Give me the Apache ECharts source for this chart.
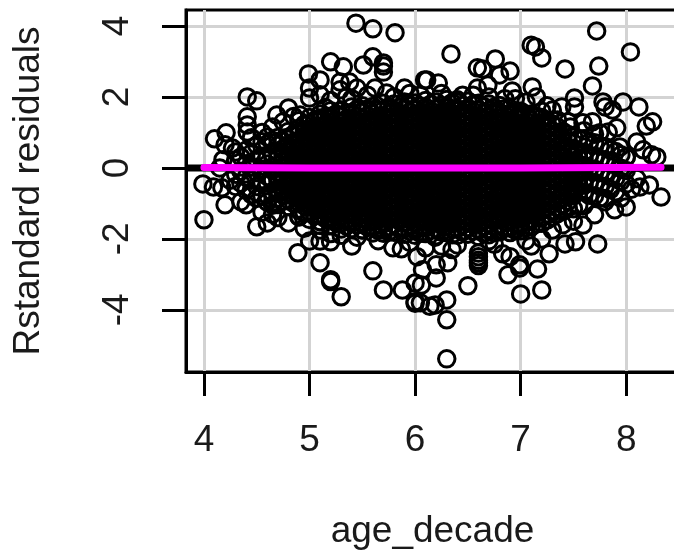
<!DOCTYPE html>
<html><head><meta charset="utf-8">
<style>html,body{margin:0;padding:0;background:#fff}#c{width:674px;height:553px}</style>
<script src="https://cdn.jsdelivr.net/npm/echarts@6/dist/echarts.min.js"></script>
</head><body><div id="c"></div>
<script>
const xTicks = [4,5,6,7,8];
const yTicks = [-4,-2,0,2,4];
const xTitle = 'age_decade';
const yTitle = 'Rstandard residuals';
// individually visible residuals: [age_decade, residual]
const outerPoints = [
[5.44,4.08],[5.60,3.92],[5.81,3.81],[4.41,2.0],[4.50,1.89],[4.10,0.82],[4.21,0.99],[4.99,2.65],[5.10,2.48],[5.20,2.99],
[5.32,2.85],[5.51,2.9],[5.60,3.13],[5.70,2.96],[5.70,2.87],[5.70,2.7],[5.90,2.25],[6.09,2.48],[5.0,2.25],[5.0,1.97],
[5.10,2.06],[4.41,1.44],[4.41,1.21],[4.41,1.01],[4.69,1.49],[4.80,1.69],[4.91,1.49],[5.10,1.41],[5.29,2.2],[5.29,2.42],
[5.38,2.42],[5.45,2.25],[5.62,2.25],[5.73,2.11],[4.60,0.87],[4.2,0.65],[4.27,0.56],[4.18,0.23],
[6.34,3.21],[6.59,2.82],[6.64,2.79],[6.76,3.07],[6.90,2.73],[6.80,2.62],[6.59,2.25],[6.69,2.34],[6.92,2.17],[7.10,3.46],
[7.14,3.41],[7.20,3.1],[7.11,2.28],[7.15,2.0],[7.42,2.79],[7.72,3.86],[7.74,2.87],[8.04,3.27],[7.68,2.31],[7.51,1.97],
[7.51,1.72],[7.78,1.86],[7.97,1.86],[8.12,1.72],[8.25,1.3],[8.19,1.18],[7.39,1.72],[7.3,1.63],[7.68,1.3],[7.80,1.72],
[7.87,1.63],[7.91,1.13],[7.47,1.15],[7.59,1.27],[8.10,0.73],[8.16,0.51],[8.24,0.37],[8.29,0.31],[7.94,0.59],[8.0,0.31],
[7.83,1.01],[7.75,0.99],[6.40,1.92],[6.11,2.48],[6.22,2.39],
[3.99,-0.45],[4.09,-0.54],[4.17,-0.56],[4.2,-1.04],[4.4,-1.04],[4.0,-1.46],[4.5,-1.66],[4.6,-1.55],[4.7,-1.4],[4.9,-1.37],
[4.89,-2.39],[5.0,-2.06],[5.1,-2.06],[5.2,-2.08],[5.4,-2.2],[5.1,-2.67],[5.2,-3.15],[5.2,-3.2],[5.3,-3.63],[5.6,-2.9],
[5.7,-3.44],[5.88,-3.44],[6.0,-3.24],[6.0,-3.77],[6.0,-3.81],[5.79,-2.25],[5.87,-2.28],[6.02,-2.5],[6.07,-2.87],[6.14,-3.9],
[5.1,-1.75],[5.5,-1.75],[6.06,-3.3],[6.05,-3.8],
[6.2,-3.1],[6.31,-2.67],[6.2,-2.73],[6.19,-3.86],[6.3,-3.72],[6.3,-4.28],[6.3,-5.38],[6.5,-3.32],[6.6,-2.4],[6.6,-2.5],
[6.6,-2.6],[6.6,-2.67],[6.6,-2.75],[6.83,-2.42],[6.9,-2.5],[6.88,-3.01],[6.99,-2.73],[6.99,-2.82],[7.0,-3.55],[7.16,-2.85],
[7.2,-3.44],[7.27,-2.42],[7.42,-2.14],[7.52,-2.08],[7.73,-2.14],[7.59,-1.61],[7.7,-1.32],[7.89,-1.18],[8.0,-1.1],[8.22,-0.48],
[8.33,-0.82],[8.13,-0.54],[6.4,-2.17],[6.19,-1.95],
[5.2,1.9],[5.15,1.7],[5.35,2.0],[5.4,1.95],[5.55,2.05],[5.8,2.0],[5.95,2.1],[6.05,2.05],[6.25,2.1],[6.45,2.05],
[6.55,2.05],[6.7,2.0],[6.85,1.95],[6.95,1.95],[7.05,1.85],[7.2,1.6],[7.25,1.75],[7.35,1.35],[7.45,1.3],
[5.3,-1.9],[5.45,-1.95],[5.65,-2.05],[5.95,-2.1],[6.1,-2.25],[6.25,-2.2],[6.35,-2.3],[6.7,-2.05],[6.75,-2.15],[7.05,-2.05],
[7.1,-2.2],[7.2,-2.0],[7.3,-1.75],[7.4,-1.6],[7.5,-1.5],[4.8,-1.55],[4.95,-1.7],[5.2,-1.85],[4.35,-0.95],[4.55,-1.25],
[4.65,-1.3],[8.05,-0.6],[7.95,-0.85],[7.8,-0.95],[8.1,-0.3],[4.25,-0.35],[4.15,0.0],[4.3,0.45],[4.45,0.85],[4.55,1.0],
[4.65,1.15],[4.75,1.3],[4.85,1.45],[7.6,1.05],[7.7,0.95]
];
// solid mass of overlapping residuals, read as columns
const coreAges = [4.3,4.4,4.5,4.6,4.7,4.8,4.9,5.0,5.1,5.2,5.3,5.4,5.5,5.6,5.7,5.8,5.9,6.0,6.1,6.2,6.3,6.4,6.5,6.6,6.7,6.8,6.9,7.0,7.1,7.2,7.3,7.4,7.5,7.6,7.7,7.8,7.9,8.0];
const coreResiduals = [
[0.22,-0.18,-0.52],
[0.5,0.12,-0.26,-0.63],
[0.64,0.24,-0.13,-0.52,-0.86],
[0.68,0.3,0.11,-0.24,-0.43,-0.77,-0.96],
[0.86,0.63,0.45,0.26,0.08,-0.11,-0.29,-0.47,-0.68,-0.85,-1.03],
[1.03,0.81,0.62,0.44,0.23,0.05,-0.16,-0.33,-0.52,-0.7,-0.91,-1.09],
[1.33,1.12,0.95,0.74,0.56,0.35,0.18,-0.02,-0.21,-0.39,-0.6,-0.78,-0.97,-1.16,-1.38],
[1.42,1.25,1.04,0.87,0.66,0.48,0.29,0.1,-0.09,-0.28,-0.46,-0.67,-0.85,-1.06,-1.24,-1.45],
[1.52,1.33,1.16,0.95,0.77,0.58,0.37,0.2,0.01,-0.17,-0.38,-0.55,-0.76,-0.94,-1.13,-1.34,-1.51,-1.62],
[1.61,1.43,1.22,1.05,0.84,0.66,0.47,0.29,0.08,-0.1,-0.29,-0.47,-0.68,-0.86,-1.05,-1.23,-1.44,-1.63],
[1.63,1.47,1.28,1.09,0.92,0.71,0.53,0.34,0.15,-0.03,-0.22,-0.41,-0.6,-0.79,-0.97,-1.18,-1.36,-1.55,-1.72],
[1.72,1.54,1.35,1.16,0.98,0.79,0.6,0.43,0.22,0.04,-0.15,-0.33,-0.54,-0.72,-0.91,-1.09,-1.29,-1.48,-1.71],
[1.75,1.58,1.39,1.21,1.02,0.83,0.64,0.47,0.26,0.09,-0.11,-0.28,-0.47,-0.66,-0.85,-1.04,-1.22,-1.41,-1.58,-1.74],
[1.73,1.52,1.33,1.16,0.97,0.78,0.59,0.41,0.2,0.03,-0.16,-0.35,-0.53,-0.74,-0.92,-1.11,-1.3,-1.49,-1.67,-1.83],
[1.82,1.63,1.44,1.26,1.07,0.88,0.7,0.51,0.32,0.13,-0.05,-0.24,-0.43,-0.62,-0.8,-0.99,-1.18,-1.37,-1.55,-1.74,-1.84],
[1.8,1.6,1.41,1.23,1.04,0.85,0.66,0.48,0.29,0.1,-0.09,-0.27,-0.46,-0.65,-0.84,-1.02,-1.21,-1.4,-1.59,-1.81],
[1.86,1.67,1.48,1.3,1.11,0.92,0.73,0.55,0.36,0.17,-0.02,-0.2,-0.39,-0.58,-0.77,-0.95,-1.14,-1.33,-1.52,-1.7,-1.87],
[1.83,1.64,1.45,1.27,1.08,0.89,0.7,0.52,0.33,0.14,-0.05,-0.23,-0.42,-0.61,-0.8,-0.98,-1.17,-1.36,-1.55,-1.76,-1.9],
[1.9,1.71,1.52,1.34,1.15,0.96,0.77,0.59,0.4,0.21,0.02,-0.16,-0.35,-0.54,-0.73,-0.91,-1.1,-1.29,-1.48,-1.66,-1.85],
[1.86,1.65,1.47,1.28,1.09,0.9,0.72,0.53,0.34,0.15,-0.03,-0.22,-0.41,-0.6,-0.78,-0.97,-1.16,-1.35,-1.53,-1.72,-1.91],
[1.93,1.74,1.55,1.37,1.18,0.99,0.8,0.62,0.43,0.24,0.05,-0.13,-0.32,-0.51,-0.7,-0.88,-1.07,-1.26,-1.45,-1.63,-1.82],
[1.85,1.66,1.48,1.29,1.1,0.91,0.73,0.54,0.35,0.16,-0.02,-0.21,-0.4,-0.59,-0.77,-0.96,-1.15,-1.34,-1.52,-1.71,-1.9],
[1.88,1.69,1.5,1.32,1.13,0.94,0.75,0.57,0.38,0.19,0,-0.18,-0.37,-0.56,-0.75,-0.93,-1.12,-1.31,-1.5,-1.68,-1.87],
[1.82,1.63,1.44,1.26,1.07,0.88,0.69,0.51,0.32,0.13,-0.06,-0.24,-0.43,-0.62,-0.81,-0.99,-1.18,-1.37,-1.56,-1.74,-1.93],
[1.8,1.62,1.43,1.24,1.05,0.87,0.68,0.49,0.3,0.12,-0.07,-0.26,-0.45,-0.63,-0.82,-1.01,-1.2,-1.38,-1.57,-1.76,-1.88],
[1.76,1.57,1.39,1.2,1.01,0.82,0.64,0.45,0.26,0.07,-0.11,-0.3,-0.49,-0.68,-0.86,-1.05,-1.24,-1.43,-1.61,-1.8],
[1.68,1.5,1.31,1.12,0.93,0.75,0.56,0.37,0.18,0,-0.19,-0.38,-0.57,-0.75,-0.94,-1.13,-1.32,-1.5,-1.69,-1.82],
[1.6,1.41,1.23,1.04,0.85,0.66,0.48,0.29,0.1,-0.09,-0.27,-0.46,-0.65,-0.84,-1.02,-1.21,-1.4,-1.59,-1.77],
[1.52,1.34,1.15,0.96,0.77,0.59,0.4,0.21,0.02,-0.16,-0.35,-0.54,-0.73,-0.91,-1.1,-1.29,-1.48,-1.66],
[1.42,1.23,1.04,0.86,0.67,0.48,0.29,0.11,-0.08,-0.27,-0.46,-0.64,-0.83,-1.02,-1.21,-1.39,-1.56],
[1.24,1.05,0.87,0.68,0.49,0.3,0.12,-0.07,-0.26,-0.45,-0.63,-0.82,-1.01,-1.2,-1.38],
[1.03,0.84,0.65,0.47,0.28,0.09,-0.1,-0.28,-0.47,-0.66,-0.85,-1.03,-1.22],
[0.91,0.54,0.35,0.16,-0.03,-0.21,-0.4,-0.59,-0.78,-1.15],
[0.82,0.44,0.26,0.07,-0.12,-0.31,-0.49,-0.68,-1.06],
[0.71,0.33,-0.04,-0.42,-0.79],
[0.6,0.23,-0.15,-0.52,-0.86],
[0.46,0.08,-0.29,-0.67],
[0.3,-0.07,-0.45]
];
const coreAgesB = [4.35,4.45,4.55,4.65,4.75,4.85,4.95,5.05,5.15,5.25,5.35,5.45,5.55,5.65,5.75,5.85,5.95,6.05,6.15,6.25,6.35,6.45,6.55,6.65,6.75,6.85,6.95,7.05,7.15,7.25,7.35,7.45,7.55,7.65,7.75,7.85,7.95];
const coreResidualsB = [
[0.31,-0.09,-0.43],
[0.42,0.02,-0.35,-0.75],
[0.74,0.33,-0.04,-0.41,-0.79],
[0.77,0.39,0.02,-0.34,-0.69,-1.05],
[0.75,0.54,0.36,0.17,-0.01,-0.2,-0.38,-0.58,-0.77,-0.94],
[0.92,0.72,0.53,0.34,0.14,-0.06,-0.25,-0.43,-0.61,-0.81,-1],
[1.23,1.03,0.85,0.65,0.46,0.27,0.08,-0.12,-0.3,-0.5,-0.69,-0.88,-1.07,-1.27],
[1.34,1.15,0.96,0.77,0.57,0.39,0.2,0,-0.19,-0.37,-0.57,-0.76,-0.96,-1.15,-1.35],
[1.43,1.24,1.06,0.86,0.68,0.48,0.29,0.1,-0.08,-0.28,-0.47,-0.66,-0.85,-1.04,-1.24,-1.43],
[1.52,1.33,1.14,0.95,0.75,0.57,0.38,0.19,-0.01,-0.2,-0.38,-0.58,-0.77,-0.96,-1.14,-1.34,-1.54],
[1.55,1.38,1.19,1,0.82,0.62,0.44,0.25,0.06,-0.13,-0.32,-0.51,-0.7,-0.88,-1.08,-1.27,-1.46,-1.64],
[1.63,1.45,1.26,1.07,0.89,0.7,0.52,0.32,0.13,-0.06,-0.24,-0.44,-0.63,-0.82,-1,-1.19,-1.39,-1.6],
[1.66,1.48,1.3,1.11,0.92,0.74,0.55,0.36,0.18,-0.01,-0.2,-0.38,-0.57,-0.76,-0.95,-1.13,-1.32,-1.5,-1.67],
[1.63,1.43,1.25,1.06,0.88,0.69,0.5,0.31,0.12,-0.07,-0.26,-0.44,-0.64,-0.83,-1.02,-1.2,-1.39,-1.58,-1.76],
[1.72,1.54,1.35,1.16,0.98,0.79,0.6,0.42,0.23,0.04,-0.15,-0.33,-0.52,-0.71,-0.9,-1.08,-1.27,-1.46,-1.65,-1.8],
[1.7,1.51,1.32,1.14,0.95,0.76,0.57,0.39,0.2,0.01,-0.18,-0.36,-0.55,-0.74,-0.93,-1.11,-1.3,-1.49,-1.7],
[1.77,1.58,1.39,1.21,1.02,0.83,0.64,0.46,0.27,0.08,-0.11,-0.29,-0.48,-0.67,-0.86,-1.04,-1.23,-1.42,-1.61,-1.79],
[1.74,1.55,1.36,1.18,0.99,0.8,0.61,0.43,0.24,0.05,-0.14,-0.32,-0.51,-0.7,-0.89,-1.07,-1.26,-1.45,-1.65,-1.84],
[1.8,1.61,1.43,1.24,1.05,0.86,0.68,0.49,0.3,0.11,-0.07,-0.26,-0.45,-0.64,-0.82,-1.01,-1.2,-1.39,-1.57,-1.76],
[1.76,1.56,1.38,1.19,1,0.81,0.63,0.44,0.25,0.06,-0.12,-0.31,-0.5,-0.69,-0.87,-1.06,-1.25,-1.44,-1.62,-1.81],
[1.84,1.65,1.46,1.28,1.09,0.9,0.71,0.53,0.34,0.15,-0.04,-0.22,-0.41,-0.6,-0.79,-0.97,-1.16,-1.35,-1.54,-1.72,-1.88],
[1.76,1.57,1.39,1.2,1.01,0.82,0.64,0.45,0.26,0.07,-0.11,-0.3,-0.49,-0.68,-0.86,-1.05,-1.24,-1.43,-1.61,-1.8],
[1.79,1.6,1.41,1.23,1.04,0.85,0.66,0.48,0.29,0.1,-0.09,-0.27,-0.46,-0.65,-0.84,-1.02,-1.21,-1.4,-1.59,-1.78],
[1.73,1.54,1.35,1.17,0.98,0.79,0.6,0.42,0.23,0.04,-0.15,-0.33,-0.52,-0.71,-0.9,-1.08,-1.27,-1.46,-1.65,-1.84],
[1.71,1.53,1.34,1.15,0.96,0.78,0.59,0.4,0.21,0.03,-0.16,-0.35,-0.54,-0.72,-0.91,-1.1,-1.29,-1.47,-1.66,-1.82],
[1.67,1.48,1.3,1.11,0.92,0.73,0.55,0.36,0.17,-0.02,-0.2,-0.39,-0.58,-0.77,-0.95,-1.14,-1.33,-1.52,-1.7],
[1.59,1.41,1.22,1.03,0.84,0.66,0.47,0.28,0.09,-0.09,-0.28,-0.47,-0.66,-0.84,-1.03,-1.22,-1.41,-1.59,-1.76],
[1.51,1.32,1.14,0.95,0.76,0.57,0.39,0.2,0.01,-0.18,-0.36,-0.55,-0.74,-0.93,-1.11,-1.3,-1.49,-1.68],
[1.43,1.25,1.06,0.87,0.68,0.5,0.31,0.12,-0.07,-0.25,-0.44,-0.63,-0.82,-1,-1.19,-1.38,-1.57],
[1.33,1.14,0.95,0.77,0.58,0.39,0.2,0.02,-0.17,-0.36,-0.55,-0.73,-0.92,-1.11,-1.3,-1.47],
[1.15,0.96,0.78,0.59,0.4,0.21,0.03,-0.16,-0.35,-0.54,-0.72,-0.91,-1.1,-1.29],
[0.94,0.75,0.56,0.38,0.19,0,-0.19,-0.37,-0.56,-0.75,-0.94,-1.12],
[0.82,0.45,0.26,0.07,-0.12,-0.3,-0.49,-0.68,-1.05],
[0.73,0.35,-0.02,-0.4,-0.77],
[0.62,0.24,-0.13,-0.51,-0.85],
[0.51,0.14,-0.24,-0.61],
[0.37,-0.01,-0.38]
];
const zeroLine = [[3.83,0],[8.5,0]];
const smoothLine = [[4.0,0.01],[5.0,0.0],[6.0,0.0],[7.0,0.0],[8.33,0.02]];

const corePoints = [];
coreAges.forEach((a,i)=>coreResiduals[i].forEach(r=>corePoints.push([a,r])));
coreAgesB.forEach((a,i)=>coreResidualsB[i].forEach(r=>corePoints.push([a,r])));

const fontFamily = '"Liberation Sans", Arial, Helvetica, sans-serif';
const chart = echarts.init(document.getElementById('c'),null,{renderer:'canvas'});
const ring = {color:'transparent',borderColor:'#000',borderWidth:3,opacity:1};
chart.setOption({
  animation:false,
  backgroundColor:'#fff',
  grid:{left:186,right:-5,top:10,bottom:181,outerBoundsMode:'none',show:true,borderColor:'#000',borderWidth:3,backgroundColor:'transparent'},
  xAxis:{type:'value',min:3.83,max:8.5,
    name:xTitle,nameLocation:'middle',nameGap:141,
    nameTextStyle:{fontSize:37,fontFamily,color:'#1a1a1a'},
    axisLine:{onZero:false,lineStyle:{color:'#000',width:3}},
    axisTick:{show:true,length:24,customValues:xTicks,lineStyle:{color:'#000',width:3}},
    axisLabel:{fontSize:37,fontFamily,color:'#1a1a1a',margin:50,customValues:xTicks,hideOverlap:false},
    splitLine:{show:true,lineStyle:{color:'#d3d3d3',width:3}}},
  yAxis:{type:'value',min:-5.75,max:4.45,
    name:yTitle,nameLocation:'middle',nameGap:139,
    nameTextStyle:{fontSize:37,fontFamily,color:'#1a1a1a'},
    axisLine:{onZero:false,lineStyle:{color:'#000',width:3}},
    axisTick:{show:true,length:24,customValues:yTicks,lineStyle:{color:'#000',width:3}},
    axisLabel:{fontSize:37,fontFamily,color:'#1a1a1a',rotate:90,margin:50,customValues:yTicks},
    splitLine:{show:true,lineStyle:{color:'#d3d3d3',width:3}}},
  series:[
    {type:'scatter',data:corePoints,symbol:'circle',symbolSize:16.5,itemStyle:ring,silent:true,z:2},
    {type:'scatter',data:outerPoints,symbol:'circle',symbolSize:16.5,itemStyle:ring,silent:true,z:2},
    {type:'line',data:zeroLine,symbol:'none',lineStyle:{color:'#000',width:7},silent:true,z:3},
    {type:'line',data:smoothLine,symbol:'none',lineStyle:{color:'#ff00ff',width:7,cap:'round'},silent:true,z:4}
  ]
});
</script></body></html>
